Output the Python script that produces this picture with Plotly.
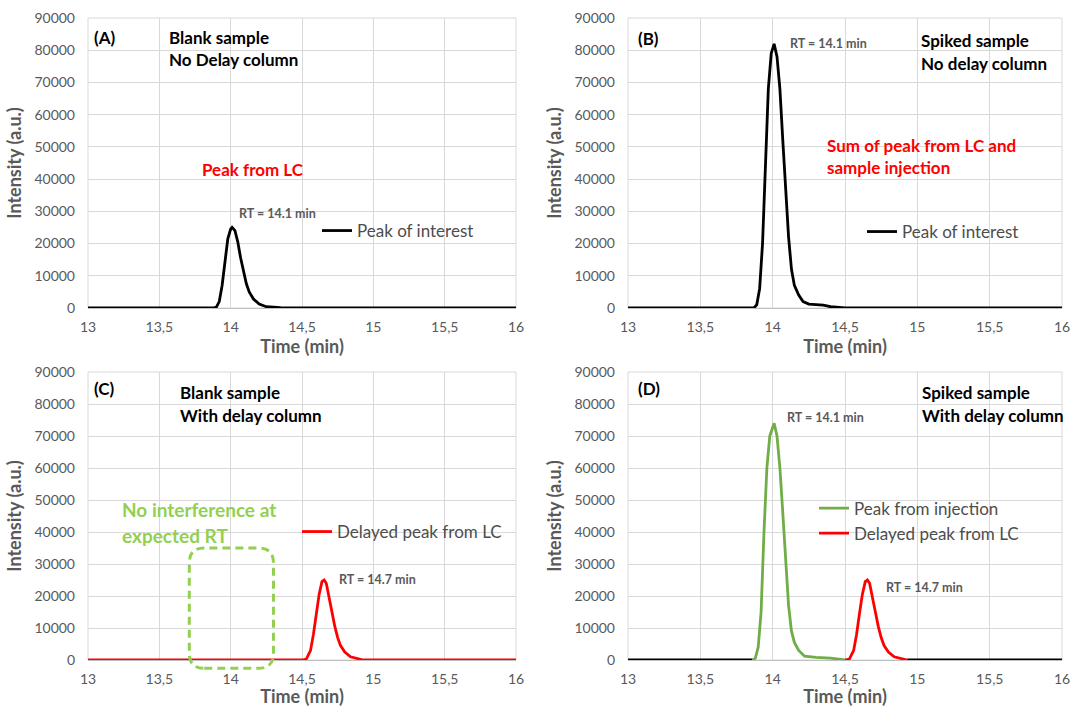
import plotly.graph_objects as go

# ---------------- data ----------------
time_a = [13.00, 13.88, 13.90, 13.92, 13.94, 13.96, 13.98, 14.00, 14.01, 14.03, 14.05,
          14.07, 14.09, 14.11, 14.13, 14.16, 14.20, 14.25, 14.35, 14.50, 16.00]
int_a = [0, 0, 300, 2000, 7000, 15000, 21500, 24500, 25000, 24000, 20500,
         15500, 11000, 7500, 5000, 2800, 1200, 400, 100, 0, 0]

time_b = [13.00, 13.87, 13.89, 13.91, 13.93, 13.95, 13.97, 13.99, 14.01, 14.03, 14.05,
          14.07, 14.09, 14.11, 14.13, 14.15, 14.18, 14.21, 14.25, 14.30, 14.35, 14.40,
          14.50, 16.00]
int_b = [0, 0, 1000, 6000, 20000, 45000, 68000, 79000, 82000, 78000, 68000,
         52000, 36000, 22000, 12000, 7000, 4000, 2000, 1200, 1000, 900, 400,
         0, 0]

time_c = [13.00, 14.50, 14.53, 14.56, 14.58, 14.60, 14.62, 14.64, 14.655, 14.67, 14.69,
          14.71, 14.73, 14.75, 14.77, 14.80, 14.84, 14.90, 14.93, 16.00]
int_c = [0, 0, 300, 3000, 8000, 14500, 20500, 24500, 25000, 24000, 20000,
         15000, 10500, 7000, 4500, 2500, 1000, 300, 0, 0]

time_d_base1 = [13.00, 13.86]
int_d_base1 = [0, 0]
time_d_base2 = [14.93, 16.00]
int_d_base2 = [0, 0]

time_d_green = [13.86, 13.88, 13.90, 13.92, 13.94, 13.96, 13.98, 14.01, 14.03, 14.05,
                14.07, 14.09, 14.11, 14.13, 14.15, 14.18, 14.22, 14.30, 14.40, 14.50]
int_d_green = [0, 500, 4000, 15000, 40000, 60000, 70000, 74000, 70000, 60000,
               46000, 30000, 17000, 9000, 5500, 3000, 1200, 800, 600, 0]

time_d_red = [14.50, 14.53, 14.56, 14.58, 14.60, 14.62, 14.64, 14.655, 14.67, 14.69,
              14.71, 14.73, 14.75, 14.77, 14.80, 14.84, 14.90, 14.93]
int_d_red = [0, 300, 3000, 8000, 14500, 20500, 24500, 25000, 24000, 20000,
             15000, 10500, 7000, 4500, 2500, 1000, 300, 0]

x_tickvals = [13, 13.5, 14, 14.5, 15, 15.5, 16]
x_ticktext = ["13", "13,5", "14", "14,5", "15", "15,5", "16"]
y_tickvals = [0, 10000, 20000, 30000, 40000, 50000, 60000, 70000, 80000, 90000]
y_ticktext = [str(v) for v in y_tickvals]

X_RANGE = [13, 16]
Y_RANGE = [0, 90000]

# ---------------- styling ----------------
W, H = 1073, 707
FONT = "Lato"
GRAY = "#595959"
LEG_GRAY = "#4D4D4D"
GRID = "#D9D9D9"
BLACK = "#000000"
RED = "#FF0000"
GREEN_LINE = "#70AD47"
GREEN_TXT = "#92D050"
LW = 2.8
LABEL = 17
RT_SIZE = 12.5


def px_x(p):
    return p / W


def px_y(p):
    return 1 - p / H


dom_x_left = [px_x(88), px_x(516)]
dom_x_right = [px_x(628), px_x(1062)]
dom_y_top = [px_y(308), px_y(18)]
dom_y_bot = [px_y(660), px_y(372)]

fig = go.Figure()

# traces
fig.add_trace(go.Scatter(x=time_a, y=int_a, mode="lines", name="Peak of interest",
                         line=dict(color=BLACK, width=LW), xaxis="x", yaxis="y",
                         legend="legend"))
fig.add_trace(go.Scatter(x=time_b, y=int_b, mode="lines", name="Peak of interest",
                         line=dict(color=BLACK, width=LW), xaxis="x2", yaxis="y2",
                         legend="legend2"))
fig.add_trace(go.Scatter(x=time_c, y=int_c, mode="lines", name="Delayed peak from LC",
                         line=dict(color=RED, width=LW), xaxis="x3", yaxis="y3",
                         legend="legend3"))
fig.add_trace(go.Scatter(x=time_d_base1, y=int_d_base1, mode="lines", showlegend=False,
                         line=dict(color=BLACK, width=LW), xaxis="x4", yaxis="y4"))
fig.add_trace(go.Scatter(x=time_d_base2, y=int_d_base2, mode="lines", showlegend=False,
                         line=dict(color=BLACK, width=LW), xaxis="x4", yaxis="y4"))
fig.add_trace(go.Scatter(x=time_d_green, y=int_d_green, mode="lines", name="Peak from injection",
                         line=dict(color=GREEN_LINE, width=LW), xaxis="x4", yaxis="y4",
                         legend="legend4"))
fig.add_trace(go.Scatter(x=time_d_red, y=int_d_red, mode="lines", name="Delayed peak from LC",
                         line=dict(color=RED, width=LW), xaxis="x4", yaxis="y4",
                         legend="legend4"))


def xaxis(domain, anchor):
    return dict(domain=domain, anchor=anchor, range=X_RANGE, tickvals=x_tickvals,
                ticktext=x_ticktext, showgrid=True, gridcolor=GRID, gridwidth=1,
                zeroline=False, showline=True, linecolor="#BFBFBF", linewidth=1,
                mirror=False, ticks="", ticklabelstandoff=6, ticklabeloverflow="allow",
                tickfont=dict(family=FONT, size=14, color=GRAY),
                title=dict(text="<b>Time (min)</b>", standoff=0,
                           font=dict(family=FONT, size=18, color=GRAY)),
                automargin=False, fixedrange=True)


def yaxis(domain, anchor):
    return dict(domain=domain, anchor=anchor, range=Y_RANGE, tickvals=y_tickvals,
                ticktext=y_ticktext, showgrid=True, gridcolor=GRID, gridwidth=1,
                zeroline=False, showline=False, ticks="", ticklabelstandoff=12,
                ticklabeloverflow="allow",
                tickfont=dict(family=FONT, size=14, color=GRAY),
                title=dict(text="<b>Intensity (a.u.)</b>", standoff=8,
                           font=dict(family=FONT, size=18, color=GRAY)),
                automargin=False, fixedrange=True)


layout = dict(
    width=W, height=H, margin=dict(l=0, r=0, t=0, b=0),
    paper_bgcolor="white", plot_bgcolor="white",
    xaxis=xaxis(dom_x_left, "y"), yaxis=yaxis(dom_y_top, "x"),
    xaxis2=xaxis(dom_x_right, "y2"), yaxis2=yaxis(dom_y_top, "x2"),
    xaxis3=xaxis(dom_x_left, "y3"), yaxis3=yaxis(dom_y_bot, "x3"),
    xaxis4=xaxis(dom_x_right, "y4"), yaxis4=yaxis(dom_y_bot, "x4"),
)

leg_common = dict(xanchor="left", yanchor="middle", bgcolor="rgba(0,0,0,0)",
                  font=dict(family=FONT, size=LABEL, color=LEG_GRAY), itemwidth=30,
                  tracegroupgap=0)
layout["legend"] = dict(x=px_x(317), y=px_y(231), **leg_common)
layout["legend2"] = dict(x=px_x(862), y=px_y(232), **leg_common)
layout["legend3"] = dict(x=px_x(297), y=px_y(532), **leg_common)
layout["legend4"] = dict(x=px_x(814), y=px_y(521), **leg_common)

fig.update_layout(**layout)

# frame: top and right gridline edges
for i in ["", "2", "3", "4"]:
    fig.add_shape(type="rect", xref=f"x{i} domain", yref=f"y{i} domain",
                  x0=0, x1=1, y0=0, y1=1, line=dict(color=GRID, width=1), layer="below")


def note(text, x, y, axis, size=LABEL, color=BLACK, anchor="left"):
    fig.add_annotation(text=text, x=x, y=y, xref=f"x{axis}", yref=f"y{axis}",
                       xanchor=anchor, yanchor="middle", showarrow=False,
                       font=dict(family=FONT, size=size, color=color))


# Panel A
note("<b>(A)</b>", 13.03, 83800, "")
note("<b>Blank sample</b>", 13.554, 84100, "")
note("<b>No Delay column</b>", 13.554, 77000, "")
note("<b>Peak from LC</b>", 14.16, 43100, "", color=RED, anchor="center")
note("<b>RT = 14.1 min</b>", 14.33, 29200, "", size=RT_SIZE, color=GRAY, anchor="center")

# Panel B
note("<b>(B)</b>", 13.055, 83500, "2")
note("<b>Spiked sample</b>", 15.01, 82900, "2")
note("<b>No delay column</b>", 15.01, 76000, "2")
note("<b>RT = 14.1 min</b>", 14.386, 82200, "2", size=RT_SIZE, color=GRAY, anchor="center")
note("<b>Sum of peak from LC and</b>", 14.36, 50300, "2", color=RED)
note("<b>sample injection</b>", 14.36, 43500, "2", color=RED)

# Panel C
note("<b>(C)</b>", 13.03, 85000, "3")
note("<b>Blank sample</b>", 13.63, 83750, "3")
note("<b>With delay column</b>", 13.63, 76560, "3")
note("<b>No interference at</b>", 13.224, 46900, "3", size=19, color=GREEN_TXT)
note("<b>expected RT</b>", 13.224, 39060, "3", size=19, color=GREEN_TXT)
note("<b>RT = 14.7 min</b>", 15.03, 25300, "3", size=RT_SIZE, color=GRAY, anchor="center")

# Panel D
note("<b>(D)</b>", 13.055, 84700, "4")
note("<b>Spiked sample</b>", 15.02, 83460, "4")
note("<b>With delay column</b>", 15.02, 76300, "4")
note("<b>RT = 14.1 min</b>", 14.366, 75700, "4", size=RT_SIZE, color=GRAY, anchor="center")
note("<b>RT = 14.7 min</b>", 15.05, 22700, "4", size=RT_SIZE, color=GRAY, anchor="center")

# Dashed rounded box in panel C (expected RT window)
box_t0, box_t1 = 13.71, 14.30
box_v0, box_v1 = -2600, 35000


def fx(t):
    return (t - X_RANGE[0]) / (X_RANGE[1] - X_RANGE[0])


def fy(v):
    return (v - Y_RANGE[0]) / (Y_RANGE[1] - Y_RANGE[0])


x0, x1, y0, y1 = fx(box_t0), fx(box_t1), fy(box_v0), fy(box_v1)
rx, ry = 0.035, 0.052
path = (f"M {x0+rx},{y0} L {x1-rx},{y0} Q {x1},{y0} {x1},{y0+ry} "
        f"L {x1},{y1-ry} Q {x1},{y1} {x1-rx},{y1} L {x0+rx},{y1} "
        f"Q {x0},{y1} {x0},{y1-ry} L {x0},{y0+ry} Q {x0},{y0} {x0+rx},{y0} Z")
fig.add_shape(type="path", path=path, xref="x3 domain", yref="y3 domain",
              line=dict(color=GREEN_TXT, width=3, dash="8px,5px"))

fig.write_html("out.html", config={"displayModeBar": False},
               post_script="document.body.style.margin='0px';document.body.style.overflow='hidden';")
